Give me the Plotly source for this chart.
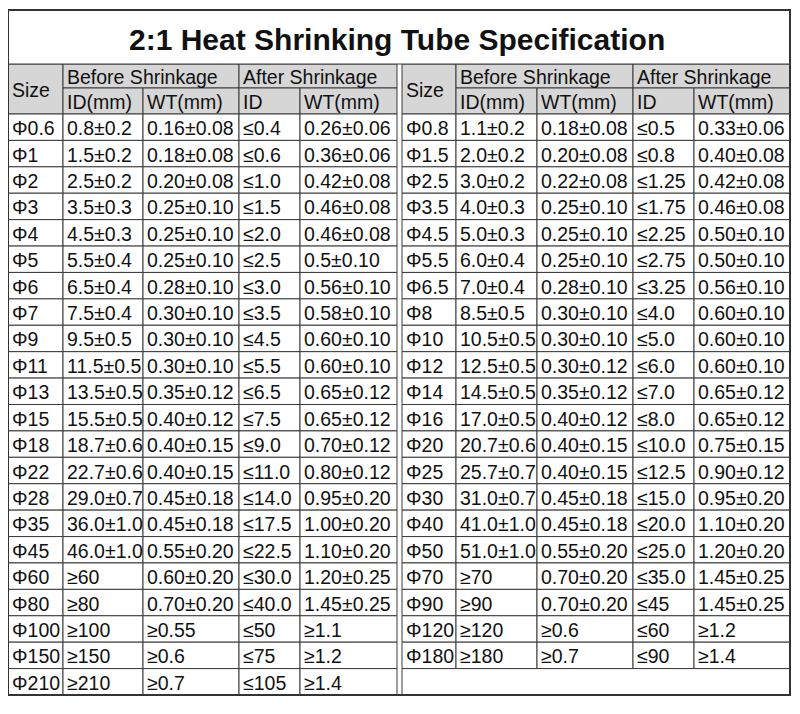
import plotly.graph_objects as go

# table data, left half
left_size = ["Φ0.6", "Φ1", "Φ2", "Φ3", "Φ4", "Φ5", "Φ6", "Φ7", "Φ9", "Φ11", "Φ13", "Φ15",
             "Φ18", "Φ22", "Φ28", "Φ35", "Φ45", "Φ60", "Φ80", "Φ100", "Φ150", "Φ210"]
left_id_before = ["0.8±0.2", "1.5±0.2", "2.5±0.2", "3.5±0.3", "4.5±0.3", "5.5±0.4", "6.5±0.4",
                  "7.5±0.4", "9.5±0.5", "11.5±0.5", "13.5±0.5", "15.5±0.5", "18.7±0.6", "22.7±0.6",
                  "29.0±0.7", "36.0±1.0", "46.0±1.0", "≥60", "≥80", "≥100", "≥150", "≥210"]
left_wt_before = ["0.16±0.08", "0.18±0.08", "0.20±0.08", "0.25±0.10", "0.25±0.10", "0.25±0.10",
                  "0.28±0.10", "0.30±0.10", "0.30±0.10", "0.30±0.10", "0.35±0.12", "0.40±0.12",
                  "0.40±0.15", "0.40±0.15", "0.45±0.18", "0.45±0.18", "0.55±0.20", "0.60±0.20",
                  "0.70±0.20", "≥0.55", "≥0.6", "≥0.7"]
left_id_after = ["≤0.4", "≤0.6", "≤1.0", "≤1.5", "≤2.0", "≤2.5", "≤3.0", "≤3.5", "≤4.5", "≤5.5",
                 "≤6.5", "≤7.5", "≤9.0", "≤11.0", "≤14.0", "≤17.5", "≤22.5", "≤30.0", "≤40.0",
                 "≤50", "≤75", "≤105"]
left_wt_after = ["0.26±0.06", "0.36±0.06", "0.42±0.08", "0.46±0.08", "0.46±0.08", "0.5±0.10",
                 "0.56±0.10", "0.58±0.10", "0.60±0.10", "0.60±0.10", "0.65±0.12", "0.65±0.12",
                 "0.70±0.12", "0.80±0.12", "0.95±0.20", "1.00±0.20", "1.10±0.20", "1.20±0.25",
                 "1.45±0.25", "≥1.1", "≥1.2", "≥1.4"]

# right half
right_size = ["Φ0.8", "Φ1.5", "Φ2.5", "Φ3.5", "Φ4.5", "Φ5.5", "Φ6.5", "Φ8", "Φ10", "Φ12", "Φ14",
              "Φ16", "Φ20", "Φ25", "Φ30", "Φ40", "Φ50", "Φ70", "Φ90", "Φ120", "Φ180", ""]
right_id_before = ["1.1±0.2", "2.0±0.2", "3.0±0.2", "4.0±0.3", "5.0±0.3", "6.0±0.4", "7.0±0.4",
                   "8.5±0.5", "10.5±0.5", "12.5±0.5", "14.5±0.5", "17.0±0.5", "20.7±0.6",
                   "25.7±0.7", "31.0±0.7", "41.0±1.0", "51.0±1.0", "≥70", "≥90", "≥120", "≥180", ""]
right_wt_before = ["0.18±0.08", "0.20±0.08", "0.22±0.08", "0.25±0.10", "0.25±0.10", "0.25±0.10",
                   "0.28±0.10", "0.30±0.10", "0.30±0.10", "0.30±0.12", "0.35±0.12", "0.40±0.12",
                   "0.40±0.15", "0.40±0.15", "0.45±0.18", "0.45±0.18", "0.55±0.20", "0.70±0.20",
                   "0.70±0.20", "≥0.6", "≥0.7", ""]
right_id_after = ["≤0.5", "≤0.8", "≤1.25", "≤1.75", "≤2.25", "≤2.75", "≤3.25", "≤4.0", "≤5.0",
                  "≤6.0", "≤7.0", "≤8.0", "≤10.0", "≤12.5", "≤15.0", "≤20.0", "≤25.0", "≤35.0",
                  "≤45", "≤60", "≤90", ""]
right_wt_after = ["0.33±0.06", "0.40±0.08", "0.42±0.08", "0.46±0.08", "0.50±0.10", "0.50±0.10",
                  "0.56±0.10", "0.60±0.10", "0.60±0.10", "0.60±0.10", "0.65±0.12", "0.65±0.12",
                  "0.75±0.15", "0.90±0.12", "0.95±0.20", "1.10±0.20", "1.20±0.20", "1.45±0.25",
                  "1.45±0.25", "≥1.2", "≥1.4", ""]

title = "2:1 Heat Shrinking Tube Specification"

# geometry in pixel units (y reversed); page body has an 8px margin, so axes are offset by 8
left_cols = [8, 63, 143, 239, 300, 397]
right_cols = [402, 456, 537, 633, 694, 790]
top, title_bot, head_mid, head_bot, bottom = 10, 64, 88, 114, 695
n_rows = 22
row_h = (bottom - head_bot) / n_rows
LINE = dict(color="#3a3a3a", width=1)
FONT = dict(family="Liberation Sans, Arial", size=19.5, color="#111")

shapes, annots = [], []


def rect(x0, y0, x1, y1, fill="white", line=LINE):
    shapes.append(dict(type="rect", xref="x", yref="y", x0=x0, y0=y0, x1=x1, y1=y1,
                       fillcolor=fill, line=line, layer="below"))


def text(x, y, s, **kw):
    annots.append(dict(x=x + 2, y=y + 1, text=s, xref="x", yref="y", showarrow=False,
                       xanchor="left", yanchor="middle", font=kw.get("font", FONT)))


def half(cols, columns, empty_last):
    gray = "#d6d6d6"
    # header
    rect(cols[0], title_bot, cols[1], head_bot, gray)
    text(cols[0], (title_bot + head_bot) / 2, "Size")
    rect(cols[1], title_bot, cols[3], head_mid, gray)
    text(cols[1], (title_bot + head_mid) / 2, "Before Shrinkage")
    rect(cols[3], title_bot, cols[5], head_mid, gray)
    text(cols[3], (title_bot + head_mid) / 2, "After Shrinkage")
    for i, lab in enumerate(["ID(mm)", "WT(mm)", "ID", "WT(mm)"]):
        rect(cols[i + 1], head_mid, cols[i + 2], head_bot, gray)
        text(cols[i + 1], (head_mid + head_bot) / 2, lab)
    # body
    for r in range(n_rows):
        y0 = head_bot + r * row_h
        if empty_last and r == n_rows - 1:
            rect(cols[0], y0, cols[5], y0 + row_h)
            continue
        for c, col in enumerate(columns):
            rect(cols[c], y0, cols[c + 1], y0 + row_h)
            text(cols[c], y0 + row_h / 2, col[r])


half(left_cols, [left_size, left_id_before, left_wt_before, left_id_after, left_wt_after], False)
half(right_cols, [right_size, right_id_before, right_wt_before, right_id_after, right_wt_after], True)

# title box and outer frame
rect(left_cols[0], top, right_cols[-1], title_bot)
shapes.append(dict(type="rect", xref="x", yref="y", x0=left_cols[0], y0=top, x1=right_cols[-1],
                   y1=bottom, line=dict(color="#333", width=2), fillcolor="rgba(0,0,0,0)"))
annots.append(dict(x=(left_cols[0] + right_cols[-1]) / 2 - 2, y=(top + title_bot) / 2 + 2,
                   text="<b>" + title + "</b>", xref="x", yref="y", showarrow=False,
                   font=dict(family="Liberation Sans, Arial", size=30, color="#111")))

fig = go.Figure()
fig.update_layout(width=800, height=714, margin=dict(l=0, r=0, t=0, b=0),
                  paper_bgcolor="white", plot_bgcolor="white",
                  shapes=shapes, annotations=annots, showlegend=False)
fig.update_xaxes(range=[8, 808], visible=False, fixedrange=True)
fig.update_yaxes(range=[722, 8], visible=False, fixedrange=True)
fig.write_html("out.html")
